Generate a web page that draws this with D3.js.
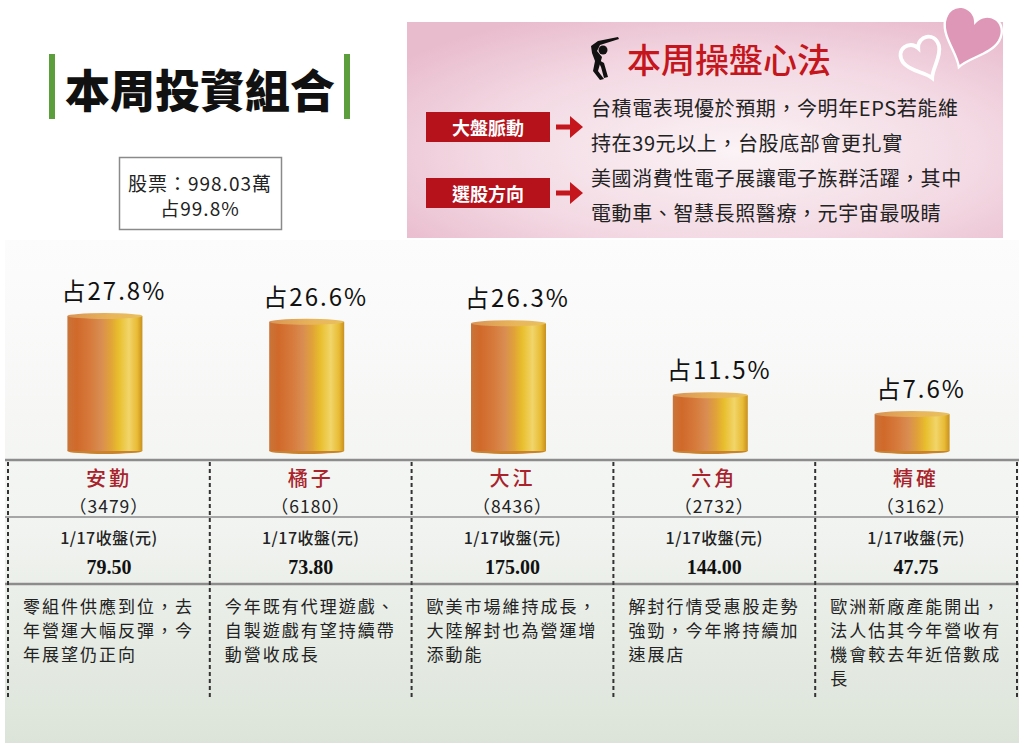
<!DOCTYPE html>
<html>
<head>
<meta charset="utf-8">
<script src="https://cdn.jsdelivr.net/npm/d3@7"></script>
<style>
  html, body { margin: 0; padding: 0; background: #fff; }
  svg { display: block; }
</style>
</head>
<body>
<svg id="chart"></svg>
<script>
"use strict";

// data
const names = ["安勤", "橘子", "大江", "六角", "精確"];
const codes = ["3479", "6180", "8436", "2732", "3162"];
const shares = [27.8, 26.6, 26.3, 11.5, 7.6];
const prices = ["79.50", "73.80", "175.00", "144.00", "47.75"];
const priceLabel = "1/17收盤(元)";
const notes = [
    ["零組件供應到位，去", "年營運大幅反彈，今", "年展望仍正向"],
    ["今年既有代理遊戲、", "自製遊戲有望持續帶", "動營收成長"],
    ["歐美市場維持成長，", "大陸解封也為營運增", "添動能"],
    ["解封行情受惠股走勢", "強勁，今年將持續加", "速展店"],
    ["歐洲新廠產能開出，", "法人估其今年營收有", "機會較去年近倍數成", "長"]
];
const title = "本周投資組合";
const stockTotal = ["股票：998.03萬", "占99.8%"];
const tipsTitle = "本周操盤心法";
const tipsTags = ["大盤脈動", "選股方向"];
const tipsLines = [
    ["台積電表現優於預期，今明年EPS若能維", "持在39元以上，台股底部會更扎實"],
    ["美國消費性電子展讓電子族群活躍，其中", "電動車、智慧長照醫療，元宇宙最吸睛"]
];

const width = 1024;
const height = 753;
const cjk = "'Noto Sans CJK TC', 'Noto Sans CJK SC', sans-serif";

const svg = d3.select("#chart")
    .attr("width", width)
    .attr("height", height)
    .attr("viewBox", [0, 0, width, height]);

const defs = svg.append("defs");

// background of the chart area
const bgGrad = defs.append("linearGradient")
    .attr("id", "bgGrad").attr("x1", 0).attr("y1", 0).attr("x2", 0).attr("y2", 1);
bgGrad.append("stop").attr("offset", "0%").attr("stop-color", "#fcfcfc");
bgGrad.append("stop").attr("offset", "55%").attr("stop-color", "#f2f4f1");
bgGrad.append("stop").attr("offset", "100%").attr("stop-color", "#dce4d9");

// pink box
const pinkGrad = defs.append("radialGradient")
    .attr("id", "pinkGrad").attr("cx", "55%").attr("cy", "60%").attr("r", "70%");
pinkGrad.append("stop").attr("offset", "0%").attr("stop-color", "#fbf3f6");
pinkGrad.append("stop").attr("offset", "60%").attr("stop-color", "#f3d9e3");
pinkGrad.append("stop").attr("offset", "100%").attr("stop-color", "#e9bccd");

// cylinder side
const cyl = defs.append("linearGradient")
    .attr("id", "cyl").attr("x1", 0).attr("y1", 0).attr("x2", 1).attr("y2", 0);
[["0%", "#c9753a"], ["12%", "#d0692a"], ["30%", "#d67a3c"], ["45%", "#d98d52"],
 ["58%", "#e1a338"], ["68%", "#e8be2c"], ["82%", "#f1d56a"], ["93%", "#e8bb35"], ["100%", "#c8901e"]]
    .forEach(([o, c]) => cyl.append("stop").attr("offset", o).attr("stop-color", c));
const cylTop = defs.append("linearGradient")
    .attr("id", "cylTop").attr("x1", 0).attr("y1", 0).attr("x2", 1).attr("y2", 0);
cylTop.append("stop").attr("offset", "0%").attr("stop-color", "#d99455");
cylTop.append("stop").attr("offset", "60%").attr("stop-color", "#e9b65a");
cylTop.append("stop").attr("offset", "100%").attr("stop-color", "#e8c060");

// ---------------- header: title ----------------
svg.append("rect").attr("x", 49).attr("y", 54).attr("width", 6).attr("height", 65).attr("fill", "#5d9e3c");
svg.append("rect").attr("x", 344).attr("y", 54).attr("width", 6).attr("height", 65).attr("fill", "#5d9e3c");
svg.append("text")
    .attr("x", 200).attr("y", 88)
    .attr("text-anchor", "middle").attr("dominant-baseline", "central")
    .attr("font-family", cjk).attr("font-weight", 900)
    .style("font-size", "45px").attr("fill", "#111")
    .text(title);

svg.append("rect").attr("x", 119.5).attr("y", 157.5).attr("width", 162).attr("height", 72)
    .attr("fill", "#fff").attr("stroke", "#8a8a8a").attr("stroke-width", 1.5);
svg.selectAll(".total")
    .data(stockTotal)
    .join("text")
    .attr("x", 200).attr("y", (d, i) => 182 + i * 25)
    .attr("text-anchor", "middle").attr("dominant-baseline", "central")
    .attr("font-family", cjk).style("font-size", "19px").style("letter-spacing", "1px")
    .attr("fill", "#222")
    .text(d => d);

// ---------------- header: pink tips box ----------------
svg.append("rect").attr("x", 407).attr("y", 22).attr("width", 596).attr("height", 216)
    .attr("fill", "url(#pinkGrad)");

// hearts
const heart = "M0,-6 C-4,-16 -20,-14 -18,0 C-16,10 -4,16 0,24 C4,16 16,10 18,0 C20,-14 4,-16 0,-6 Z";
svg.append("path").attr("d", heart)
    .attr("transform", "translate(972,31) rotate(20) scale(1.6)")
    .attr("fill", "#df97b8").attr("stroke", "#fff").attr("stroke-width", 1.5);
svg.append("path").attr("d", heart)
    .attr("transform", "translate(921,54) rotate(-25) scale(1.1)")
    .attr("fill", "none").attr("stroke", "#fff").attr("stroke-width", 3.5);

// golfer icon
const golfer = svg.append("g").attr("transform", "translate(588,37)").attr("fill", "#111");
golfer.append("circle").attr("cx", 15).attr("cy", 13).attr("r", 4.5);
golfer.append("path").attr("d", "M3,9 L10,4 L30,0 L31,2 L12,8 L9,14 L14,20 L10,34 L16,42 L12,43 L5,34 L7,24 L4,16 Z");
golfer.append("path").attr("d", "M9,22 L16,26 L20,40 L16,41 L13,30 Z");

svg.append("text")
    .attr("x", 627).attr("y", 58)
    .attr("dominant-baseline", "central")
    .attr("font-family", cjk).attr("font-weight", 500)
    .style("font-size", "34px").attr("fill", "#c4161c")
    .text(tipsTitle);

const tagY = [127, 193];
const tags = svg.selectAll(".tag").data(tipsTags).join("g")
    .attr("transform", (d, i) => `translate(0,${tagY[i]})`);
tags.append("rect").attr("x", 426).attr("y", -15).attr("width", 124).attr("height", 30).attr("fill", "#b5121b");
tags.append("text").attr("x", 488).attr("y", 0)
    .attr("text-anchor", "middle").attr("dominant-baseline", "central")
    .attr("font-family", cjk).attr("font-weight", 700)
    .style("font-size", "18px").attr("fill", "#fff")
    .text(d => d);
tags.append("path")
    .attr("d", "M556,-2.5 L570,-2.5 L570,-11 L583,0 L570,11 L570,2.5 L556,2.5 Z")
    .attr("fill", "#c4161c");

const tipY = [[107, 142], [177, 212]];
tipsLines.forEach((lines, i) => {
    svg.selectAll(".tip" + i).data(lines).join("text")
        .attr("x", 591).attr("y", (d, j) => tipY[i][j])
        .attr("dominant-baseline", "central")
        .attr("font-family", cjk).style("font-size", "20px").style("letter-spacing", "0.6px")
        .attr("fill", "#222")
        .text(d => d);
});

// ---------------- chart area ----------------
const left = 8, right = 1017;
svg.append("rect").attr("x", 5).attr("y", 240).attr("width", 1014).attr("height", 503)
    .attr("fill", "url(#bgGrad)");

const x = d3.scaleBand().domain(names).range([left, right]).padding(0);
const baseY = 451;
const y = d3.scaleLinear().domain([0, 27.8]).range([baseY, 316]);
const barW = 75;

const cols = svg.selectAll(".col").data(names).join("g")
    .attr("transform", d => `translate(${x(d)},0)`);

const bw = x.bandwidth();
const barX = bw / 2 - 4 - barW / 2;

cols.append("ellipse")
    .attr("cx", barX + barW / 2).attr("cy", baseY)
    .attr("rx", barW / 2).attr("ry", 3)
    .attr("fill", "#c9822e");
cols.append("rect")
    .attr("x", barX).attr("width", barW)
    .attr("y", (d, i) => y(shares[i]))
    .attr("height", (d, i) => baseY - y(shares[i]))
    .attr("fill", "url(#cyl)");
cols.append("ellipse")
    .attr("cx", barX + barW / 2).attr("cy", (d, i) => y(shares[i]))
    .attr("rx", barW / 2).attr("ry", 3)
    .attr("fill", "url(#cylTop)");

cols.append("text")
    .attr("x", bw / 2 + 5).attr("y", (d, i) => y(shares[i]) - 16)
    .attr("text-anchor", "middle")
    .attr("font-family", cjk).style("font-size", "24px").style("letter-spacing", "2px")
    .attr("fill", "#111")
    .text((d, i) => "占" + shares[i].toFixed(1) + "%");

// table
const rules = [460, 517, 584];
svg.selectAll(".rule").data(rules).join("line")
    .attr("x1", 5).attr("x2", 1019).attr("y1", d => d).attr("y2", d => d)
    .attr("stroke", "#8c8c8c").attr("stroke-width", (d, i) => i === 1 ? 1.5 : 2.5);

svg.selectAll(".div").data(names.map(d => x(d)).concat([right])).join("line")
    .attr("x1", d => d).attr("x2", d => d).attr("y1", 462).attr("y2", 700)
    .attr("stroke", "#333").attr("stroke-width", 2).attr("stroke-dasharray", "4,3");

cols.append("text")
    .attr("x", bw / 2).attr("y", 477)
    .attr("text-anchor", "middle").attr("dominant-baseline", "central")
    .attr("font-family", cjk).attr("font-weight", 500)
    .style("font-size", "20px").style("letter-spacing", "3px").attr("fill", "#a8232b")
    .text(d => d);
cols.append("text")
    .attr("x", bw / 2).attr("y", 505)
    .attr("text-anchor", "middle").attr("dominant-baseline", "central")
    .attr("font-family", cjk).style("font-size", "17.5px").style("letter-spacing", "1px")
    .attr("fill", "#222")
    .text((d, i) => "（" + codes[i] + "）");
cols.append("text")
    .attr("x", bw / 2).attr("y", 537)
    .attr("text-anchor", "middle").attr("dominant-baseline", "central")
    .attr("font-family", cjk).attr("font-weight", 500)
    .style("font-size", "16px").style("letter-spacing", "0.5px").attr("fill", "#222")
    .text(priceLabel);
cols.append("text")
    .attr("x", bw / 2).attr("y", 567)
    .attr("text-anchor", "middle").attr("dominant-baseline", "central")
    .attr("font-family", "'Liberation Serif', serif").attr("font-weight", 700)
    .style("font-size", "20px").attr("fill", "#111")
    .text((d, i) => prices[i]);

cols.each(function(d, i) {
    d3.select(this).selectAll(".note").data(notes[i]).join("text")
        .attr("x", 15).attr("y", (t, j) => 605 + j * 24)
        .attr("dominant-baseline", "central")
        .attr("font-family", cjk).style("font-size", "17px").style("letter-spacing", "2px")
        .attr("fill", "#222")
        .text(t => t);
});
</script>
</body>
</html>
